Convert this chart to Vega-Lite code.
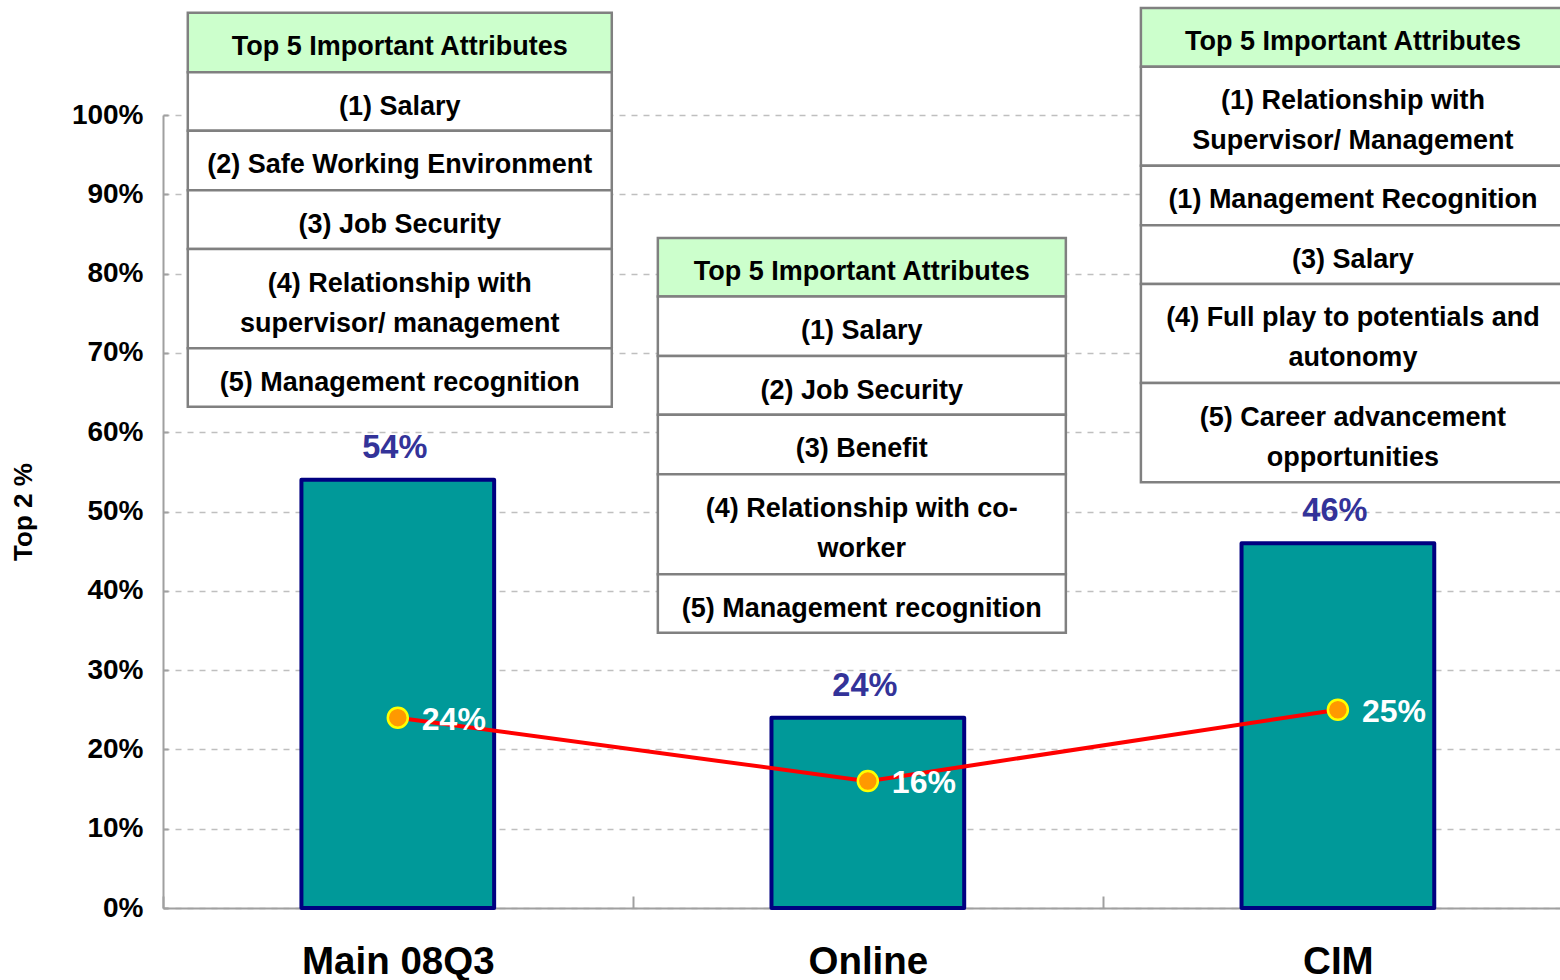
{
  "$schema": "https://vega.github.io/schema/vega-lite/v6.json",
  "width": 1397,
  "height": 793,
  "autosize": {"type": "none"},
  "padding": {"left": 163, "top": 115, "right": 0, "bottom": 72},
  "background": "white",
  "config": {
    "font": "Liberation Sans",
    "view": {"stroke": null},
    "axisY": {
      "domainColor": "#A0A0A0", "domainWidth": 2,
      "ticks": true, "tickColor": "#A0A0A0", "tickWidth": 2, "tickSize": -5,
      "labelFont": "Liberation Sans", "labelFontSize": 28, "labelFontWeight": "bold", "labelColor": "#000000",
      "labelPadding": 25,
      "grid": true, "gridColor": "#BFBFBF", "gridDash": [6, 6], "gridWidth": 1.5,
      "titleFont": "Liberation Sans", "titleFontSize": 26, "titleFontWeight": "bold", "titleColor": "#000000",
      "titlePadding": 35
    },
    "axisX": {
      "domainColor": "#A0A0A0", "domainWidth": 2,
      "ticks": true, "tickColor": "#A0A0A0", "tickWidth": 2, "tickSize": -12,
      "labelFont": "Liberation Sans", "labelFontSize": 38.5, "labelFontWeight": "bold", "labelColor": "#000000",
      "labelPadding": 47, "labelAngle": 0, "labelLimit": 0,
      "grid": false
    }
  },
  "datasets": {
    "bars": [
      {"group": "Main 08Q3", "top2": 0.54, "trend": 0.24},
      {"group": "Online", "top2": 0.24, "trend": 0.16},
      {"group": "CIM", "top2": 0.46, "trend": 0.25}
    ],
    "cells": [
      {"table": "Main 08Q3", "kind": "header", "label": "Top 5 Important Attributes", "top": 1.129, "bottom": 1.054},
      {"table": "Main 08Q3", "kind": "item", "label": "(1) Salary", "top": 1.054, "bottom": 0.980},
      {"table": "Main 08Q3", "kind": "item", "label": "(2) Safe Working Environment", "top": 0.980, "bottom": 0.905},
      {"table": "Main 08Q3", "kind": "item", "label": "(3) Job Security", "top": 0.905, "bottom": 0.831},
      {"table": "Main 08Q3", "kind": "item", "label": "(4) Relationship with\nsupervisor/ management", "top": 0.831, "bottom": 0.706},
      {"table": "Main 08Q3", "kind": "item", "label": "(5) Management recognition", "top": 0.706, "bottom": 0.632},
      {"table": "Online", "kind": "header", "label": "Top 5 Important Attributes", "top": 0.845, "bottom": 0.771},
      {"table": "Online", "kind": "item", "label": "(1) Salary", "top": 0.771, "bottom": 0.696},
      {"table": "Online", "kind": "item", "label": "(2) Job Security", "top": 0.696, "bottom": 0.622},
      {"table": "Online", "kind": "item", "label": "(3) Benefit", "top": 0.622, "bottom": 0.547},
      {"table": "Online", "kind": "item", "label": "(4) Relationship with co-\nworker", "top": 0.547, "bottom": 0.421},
      {"table": "Online", "kind": "item", "label": "(5) Management recognition", "top": 0.421, "bottom": 0.347},
      {"table": "CIM", "kind": "header", "label": "Top 5 Important Attributes", "top": 1.135, "bottom": 1.061},
      {"table": "CIM", "kind": "item", "label": "(1) Relationship with\nSupervisor/ Management", "top": 1.061, "bottom": 0.936},
      {"table": "CIM", "kind": "item", "label": "(1) Management Recognition", "top": 0.936, "bottom": 0.861},
      {"table": "CIM", "kind": "item", "label": "(3) Salary", "top": 0.861, "bottom": 0.787},
      {"table": "CIM", "kind": "item", "label": "(4) Full play to potentials and\nautonomy", "top": 0.787, "bottom": 0.662},
      {"table": "CIM", "kind": "item", "label": "(5) Career advancement\nopportunities", "top": 0.662, "bottom": 0.537}
    ]
  },
  "data": {"name": "bars"},
  "layer": [
    {
      "mark": {"type": "bar", "fill": "#009999", "stroke": "#000080", "strokeWidth": 4, "strokeJoin": "round"},
      "encoding": {
        "x": {"field": "group", "type": "nominal", "title": null,
              "scale": {"domain": ["Main 08Q3", "Online", "CIM"], "paddingInner": 0.59, "paddingOuter": 0.281, "align": 0.524},
              "axis": {"tickOffset": -235, "tickSize": -12, "labelOffset": 235}},
        "y": {"field": "top2", "type": "quantitative", "title": "Top 2 %",
              "scale": {"domain": [0, 1], "nice": false},
              "axis": {"values": [0, 0.1, 0.2, 0.3, 0.4, 0.5, 0.6, 0.7, 0.8, 0.9, 1], "format": ".0%"}}
      }
    },
    {
      "mark": {"type": "text", "fontSize": 32.5, "fontWeight": "bold", "color": "#333399", "baseline": "alphabetic", "dy": -22, "dx": -3},
      "encoding": {
        "x": {"field": "group", "type": "nominal", "title": null},
        "y": {"field": "top2", "type": "quantitative", "title": "Top 2 %", "scale": {"domain": [0, 1], "nice": false}},
        "text": {"field": "top2", "type": "quantitative", "format": ".0%"}
      }
    },
    {
      "mark": {"type": "line", "color": "#FF0000", "strokeWidth": 4},
      "encoding": {
        "x": {"field": "group", "type": "nominal", "title": null},
        "y": {"field": "trend", "type": "quantitative", "title": "Top 2 %", "scale": {"domain": [0, 1], "nice": false}}
      }
    },
    {
      "mark": {"type": "point", "shape": "circle", "filled": true, "size": 400, "fill": "#FF9900", "stroke": "#FFFF00", "strokeWidth": 2.5, "opacity": 1},
      "encoding": {
        "x": {"field": "group", "type": "nominal", "title": null},
        "y": {"field": "trend", "type": "quantitative", "title": "Top 2 %", "scale": {"domain": [0, 1], "nice": false}}
      }
    },
    {
      "mark": {"type": "text", "fontSize": 32, "fontWeight": "bold", "color": "#FFFFFF", "align": "left", "baseline": "middle", "dx": 24, "dy": 2},
      "encoding": {
        "x": {"field": "group", "type": "nominal", "title": null},
        "y": {"field": "trend", "type": "quantitative", "title": "Top 2 %", "scale": {"domain": [0, 1], "nice": false}},
        "text": {"field": "trend", "type": "quantitative", "format": ".0%"}
      }
    },
    {
      "data": {"name": "cells"},
      "transform": [{"filter": "datum.table === 'Main 08Q3'"}],
      "mark": {"type": "bar", "width": {"band": 2.2}, "xOffset": 2, "stroke": "#808080", "strokeWidth": 2.5},
      "encoding": {
        "x": {"field": "table", "type": "nominal", "title": null},
        "y": {"field": "top", "type": "quantitative", "title": "Top 2 %", "scale": {"domain": [0, 1], "nice": false}},
        "y2": {"field": "bottom"},
        "color": {"field": "kind", "type": "nominal", "legend": null,
                  "scale": {"domain": ["header", "item"], "range": ["#CCFFCC", "#FFFFFF"]}}
      }
    },
    {
      "data": {"name": "cells"},
      "transform": [{"filter": "datum.table === 'Online'"}],
      "mark": {"type": "bar", "width": {"band": 2.117}, "xOffset": -6, "stroke": "#808080", "strokeWidth": 2.5},
      "encoding": {
        "x": {"field": "table", "type": "nominal", "title": null},
        "y": {"field": "top", "type": "quantitative", "title": "Top 2 %", "scale": {"domain": [0, 1], "nice": false}},
        "y2": {"field": "bottom"},
        "color": {"field": "kind", "type": "nominal", "legend": null,
                  "scale": {"domain": ["header", "item"], "range": ["#CCFFCC", "#FFFFFF"]}}
      }
    },
    {
      "data": {"name": "cells"},
      "transform": [{"filter": "datum.table === 'CIM'"}],
      "mark": {"type": "bar", "width": {"band": 2.2}, "xOffset": 15, "stroke": "#808080", "strokeWidth": 2.5},
      "encoding": {
        "x": {"field": "table", "type": "nominal", "title": null},
        "y": {"field": "top", "type": "quantitative", "title": "Top 2 %", "scale": {"domain": [0, 1], "nice": false}},
        "y2": {"field": "bottom"},
        "color": {"field": "kind", "type": "nominal", "legend": null,
                  "scale": {"domain": ["header", "item"], "range": ["#CCFFCC", "#FFFFFF"]}}
      }
    },
    {
      "data": {"name": "cells"},
      "transform": [{"filter": "datum.table === 'Main 08Q3'"}],
      "mark": {"type": "text", "xOffset": 2, "dy": 21.5, "fontSize": 27, "fontWeight": "bold", "color": "#000000", "align": "center", "baseline": "top", "lineBreak": "\n", "lineHeight": 40},
      "encoding": {
        "x": {"field": "table", "type": "nominal", "title": null},
        "y": {"field": "top", "type": "quantitative", "title": "Top 2 %", "scale": {"domain": [0, 1], "nice": false}},
        "text": {"field": "label", "type": "nominal"}
      }
    },
    {
      "data": {"name": "cells"},
      "transform": [{"filter": "datum.table === 'Online'"}],
      "mark": {"type": "text", "xOffset": -6, "dy": 21.5, "fontSize": 27, "fontWeight": "bold", "color": "#000000", "align": "center", "baseline": "top", "lineBreak": "\n", "lineHeight": 40},
      "encoding": {
        "x": {"field": "table", "type": "nominal", "title": null},
        "y": {"field": "top", "type": "quantitative", "title": "Top 2 %", "scale": {"domain": [0, 1], "nice": false}},
        "text": {"field": "label", "type": "nominal"}
      }
    },
    {
      "data": {"name": "cells"},
      "transform": [{"filter": "datum.table === 'CIM'"}],
      "mark": {"type": "text", "xOffset": 15, "dy": 21.5, "fontSize": 27, "fontWeight": "bold", "color": "#000000", "align": "center", "baseline": "top", "lineBreak": "\n", "lineHeight": 40},
      "encoding": {
        "x": {"field": "table", "type": "nominal", "title": null},
        "y": {"field": "top", "type": "quantitative", "title": "Top 2 %", "scale": {"domain": [0, 1], "nice": false}},
        "text": {"field": "label", "type": "nominal"}
      }
    }
  ]
}
